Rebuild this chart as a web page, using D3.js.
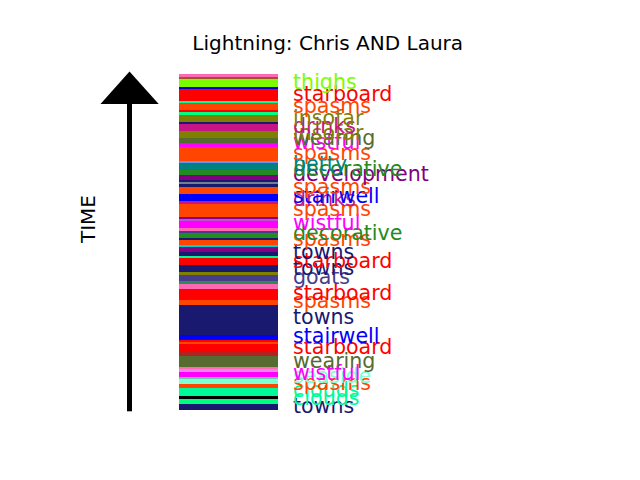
<!DOCTYPE html>
<html><head><meta charset="utf-8">
<script src="https://cdn.jsdelivr.net/npm/d3@7"></script>
<style>html,body{margin:0;padding:0;background:#fff}</style>
</head><body>
<svg id="chart" width="640" height="480"></svg>
<script>
// Time (minutes from start) of the boundaries between consecutive events, oldest first
const edges = [0, 6.6, 11.3, 14.3, 22.6, 26.6, 31.3, 33, 38.6, 41, 43.6, 54.3, 59.3, 66.3, 68.3, 70.3, 75.3,
  105.3, 110.3, 121.3, 126.3, 129, 135.6, 138.6, 145.3, 152.6, 154.6, 158.3, 161.6, 163.6, 165.6, 170, 172.6,
  177.6, 179.6, 182.6, 189.6, 191, 193.6, 206, 209.6, 216.6, 223.6, 226.3, 228.8, 230.6, 235.3, 240.3, 247.8,
  249.8, 263.8, 267.8, 272.3, 279.3, 286.6, 288.6, 295.3, 298.8, 300.3, 307.8, 309.8, 321.8, 323.6, 331, 333, 336.3];
// colour of each event (one per interval), oldest first
const eventColors = ["midnightblue","springgreen","black","mediumspringgreen","orangered","aquamarine",
  "mediumaquamarine","magenta","violet","hotpink","darkolivegreen","firebrick","red","orangered","red","blue",
  "midnightblue","orangered","red","hotpink","seagreen","darkslateblue","olive","midnightblue","red",
  "mediumspringgreen","midnightblue","purple","darkmagenta","darkturquoise","orangered","midnightblue",
  "forestgreen","darkslateblue","hotpink","magenta","mediumorchid","darkmagenta","orangered","mediumvioletred",
  "blue","orangered","midnightblue","slategray","midnightblue","purple","forestgreen","teal","cornflowerblue",
  "orangered","magenta","darkolivegreen","olive","mediumvioletred","midnightblue","olive","springgreen","red",
  "orangered","mediumspringgreen","red","mediumblue","lawngreen","sienna","hotpink"];
// labelled events
const labelWords = ["towns","clouds","clouds","spasms","seaside","wistful","wearing","starboard","stairwell",
  "towns","spasms","starboard","goats","towns","starboard","towns","spasms","decorative","wistful","spasms",
  "drinks","stairwell","spasms","development","decorative","betty","spasms","wistful","wearing","insofar",
  "drinks","insofar","spasms","starboard","thighs"];
const labelTimes = [3.8, 12.3, 19.8, 27.3, 34.3, 37.3, 49.3, 63.3, 73.8, 92.8, 109.3, 116.8, 133.3, 142.3, 148.8,
  157.8, 171.3, 177.3, 187.3, 200.8, 210.8, 214.3, 223.3, 236.3, 240.8, 245.8, 257.3, 268.3, 272.3, 277.3, 283.8,
  292.3, 303.8, 315.8, 328.3];
const wordColor = {thighs:"lawngreen", starboard:"red", spasms:"orangered", insofar:"olive", drinks:"mediumvioletred",
  wearing:"darkolivegreen", wistful:"magenta", betty:"teal", decorative:"forestgreen", development:"purple",
  stairwell:"blue", towns:"midnightblue", goats:"darkslateblue", seaside:"aquamarine", clouds:"mediumspringgreen"};
const titleText = "Lightning: Chris AND Laura";
const axisLabel = "TIME";

const svg = d3.select("#chart");
const font = "'DejaVu Sans', sans-serif";
const y = d3.scaleLinear().domain([0, 336.3]).range([410.3, 74]);
const x = d3.scaleLinear().domain([0, 1]).range([179, 278]);

const events = eventColors.map((c, i) => ({start: edges[i], end: edges[i + 1], color: c}));
svg.append("g").selectAll("rect").data(events).join("rect")
  .attr("x", x(0)).attr("width", x(1) - x(0))
  .attr("y", d => y(d.end)).attr("height", d => y(d.start) - y(d.end))
  .attr("fill", d => d.color).attr("shape-rendering", "crispEdges");

const labels = labelWords.map((w, i) => ({word: w, t: labelTimes[i]}));
svg.append("g").selectAll("text").data(labels).join("text")
  .attr("x", 293).attr("y", d => y(d.t)).attr("dy", "0.33em")
  .attr("font-family", font).attr("font-size", 20.6)
  .attr("fill", d => wordColor[d.word]).text(d => d.word);

// time arrow
const arrow = svg.append("g");
arrow.append("rect").attr("x", 127).attr("y", 103).attr("width", 5).attr("height", y(0) - 103 + 1).attr("fill", "black");
arrow.append("path").attr("d", "M129.5,71.5 L158.7,104 L100.5,104 Z").attr("fill", "black");
svg.append("text").attr("transform", "translate(95,219) rotate(-90)")
  .attr("text-anchor", "middle").attr("font-family", font).attr("font-size", 20).text(axisLabel);

svg.append("text").attr("x", 327.7).attr("y", 50).attr("text-anchor", "middle")
  .attr("font-family", font).attr("font-size", 20).attr("fill", "black").text(titleText);
</script>
</body></html>
